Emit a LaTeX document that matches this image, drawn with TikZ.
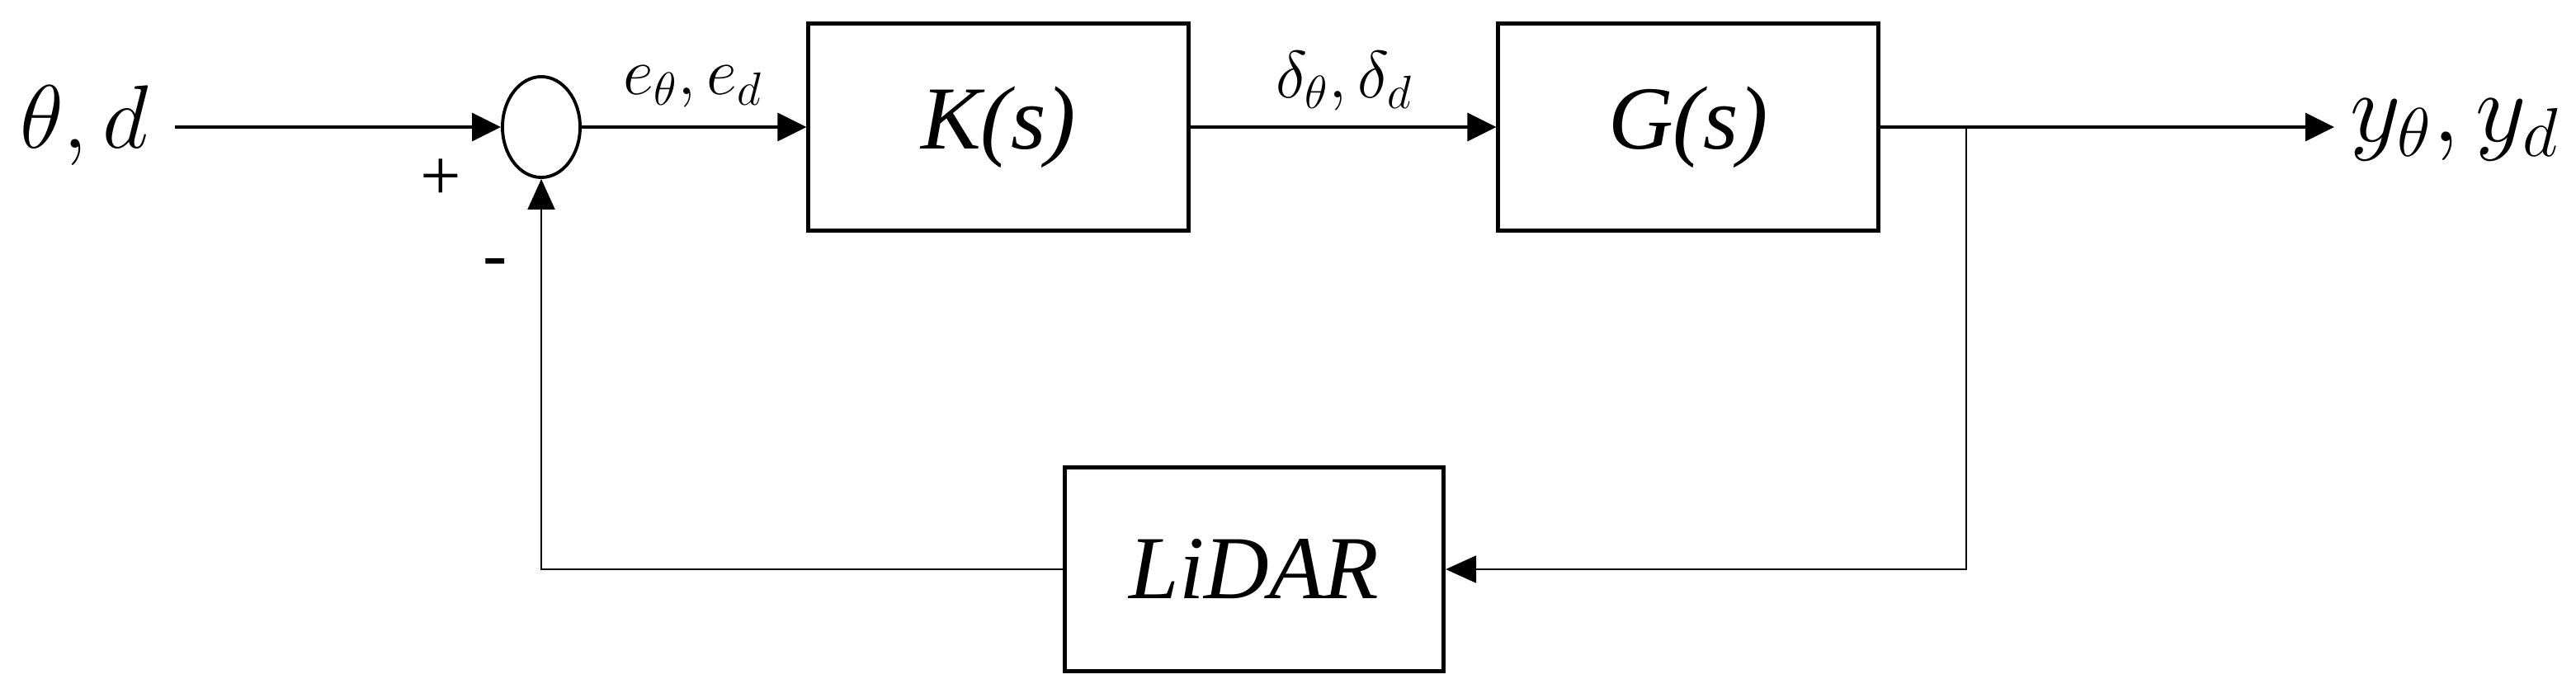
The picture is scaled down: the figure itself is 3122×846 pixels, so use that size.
\RequirePackage{fix-cm}
\documentclass[tikz,border=0pt]{standalone}
\usepackage{fontspec}
\setmainfont{Liberation Serif}
\usetikzlibrary{arrows.meta,shapes.geometric}
\begin{document}
\begin{tikzpicture}[x=0.01cm,y=-0.01cm,
  blockbox/.style={draw,line width=1.4pt,minimum width=4.6cm,minimum height=2.5cm,inner sep=0pt,
    font=\fontsize{31}{31}\selectfont\itshape},
  sumnode/.style={draw,ellipse,line width=1.1pt,minimum width=0.94cm,minimum height=1.22cm,inner sep=0pt},
  sig/.style={line width=0.9pt,-{Triangle[length=0.35cm,width=0.34cm]}},
  fbarrow/.style={line width=0.6pt,-{Triangle[length=0.37cm,width=0.33cm]}},
  biglabel/.style={font=\fontsize{31}{31}\selectfont,inner sep=0pt},
  outlabel/.style={font=\fontsize{34}{34}\selectfont,inner sep=0pt},
  smalllabel/.style={font=\fontsize{23}{23}\selectfont,inner sep=0pt},
  signlabel/.style={font=\fontsize{25}{25}\selectfont,inner sep=0pt}]
\useasboundingbox (0,0) rectangle (3122,846);
\node[sumnode] (sum) at (656,154) {};
\node[blockbox] (K) at (1210,154) {K(s)};
\node[blockbox] (G) at (2046,154) {G(s)};
\node[blockbox,minimum width=4.59cm,minimum height=2.47cm] (L) at (1520,690) {LiDAR};
\node[biglabel,anchor=base] (in) at (102,180) {$\theta, d$};
\node[outlabel,anchor=base west] (out) at (2848,172) {$y_\theta, y_d$};
\coordinate (start) at (212,154);
\coordinate (tip) at (2829,154);
\coordinate (br) at (2383,154);
\coordinate (brdown) at (2383,690);
\coordinate (fbcorner) at (656,690);
\node[smalllabel,anchor=base] (elab) at (840,115) {$e_\theta, e_d$};
\node[smalllabel,anchor=base] (dlab) at (1629,119) {$\delta_\theta, \delta_d$};
\node[signlabel] (plus) at (534,218) {+};
\node[signlabel] (minus) at (600,326) {-};
\draw[sig] (start) -- (sum.west);
\draw[sig] (sum.east) -- (K.west);
\draw[sig] (K.east) -- (G.west);
\draw[sig] (G.east) -- (tip);
\draw[fbarrow] (br) -- (brdown) -- (L.east);
\draw[fbarrow] (L.west) -- (fbcorner) -- (sum.south);
\end{tikzpicture}
\end{document}
